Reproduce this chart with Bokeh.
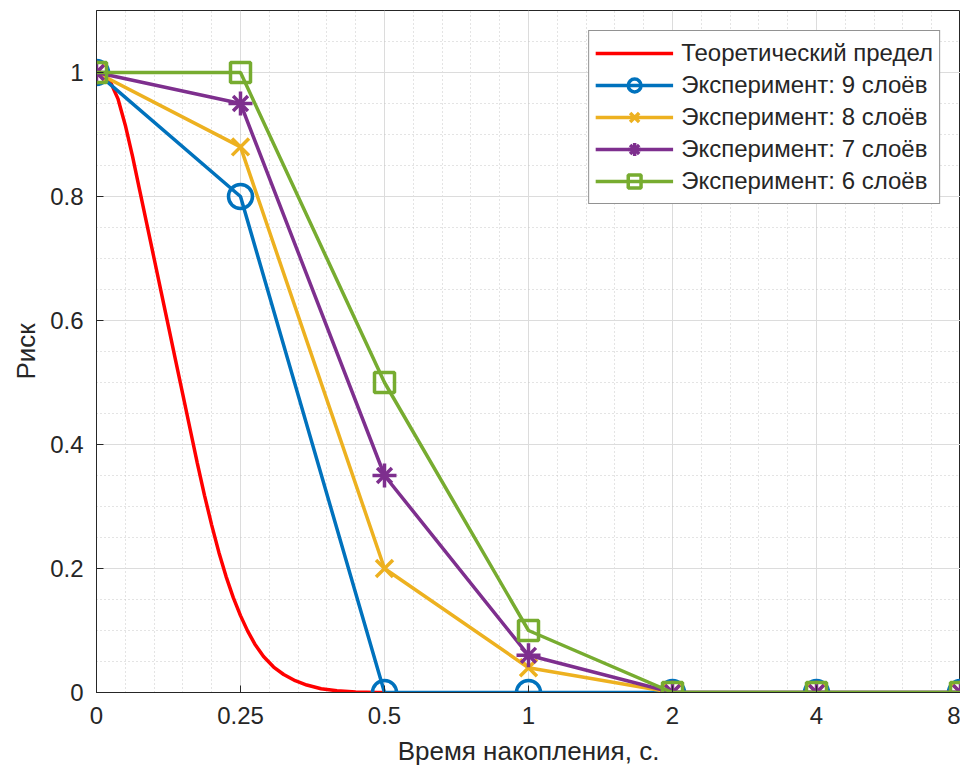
from bokeh.plotting import figure
from bokeh.models import FixedTicker, Range1d, Legend
from bokeh.embed import file_html
from bokeh.resources import INLINE

# ---- data ----
tick_labels = ["0", "0.25", "0.5", "1", "2", "4", "8"]
positions = [0, 1, 2, 3, 4, 5, 6]

# theoretical curve (x in axis-position units)
theory_x = [0.00, 0.05, 0.10, 0.15, 0.20, 0.25, 0.30, 0.35, 0.40, 0.45, 0.50, 0.55,
            0.60, 0.65, 0.70, 0.75, 0.80, 0.85, 0.90, 0.95, 1.00, 1.05, 1.10, 1.16,
            1.23, 1.30, 1.38, 1.46, 1.56, 1.67, 1.80, 1.95, 2.00]
theory_y = [1.000, 0.996, 0.983, 0.957, 0.915, 0.865, 0.810, 0.755, 0.700, 0.645, 0.590, 0.535,
            0.480, 0.425, 0.370, 0.318, 0.270, 0.226, 0.187, 0.153, 0.124, 0.099, 0.078, 0.058,
            0.041, 0.029, 0.019, 0.012, 0.006, 0.003, 0.001, 0.000, 0.000]

layers9 = [1.0, 0.80, 0.0, 0.0, 0.0, 0.0, 0.0]
layers8 = [1.0, 0.88, 0.20, 0.04, 0.0, 0.0, 0.0]
layers7 = [1.0, 0.95, 0.35, 0.06, 0.0, 0.0, 0.0]
layers6 = [1.0, 1.00, 0.50, 0.10, 0.0, 0.0, 0.0]

RED = "#FF0000"
BLUE = "#0072BD"
YELLOW = "#EDB120"
PURPLE = "#7E2F8E"
GREEN = "#77AC30"
TXT = "#262626"
FONT = "Liberation Sans"

p = figure(width=960, height=768, output_backend="svg", toolbar_location=None,
           x_range=Range1d(0, 6), y_range=Range1d(0, 1.1),
           min_border_left=96, min_border_right=0, min_border_top=10, min_border_bottom=76)

p.outline_line_color = TXT
p.outline_line_width = 1

# ticks
p.xaxis.ticker = FixedTicker(ticks=positions,
                             minor_ticks=[i * 0.2 for i in range(0, 31)])
p.xaxis.major_label_overrides = {pos: lab for pos, lab in zip(positions, tick_labels)}
p.yaxis.ticker = FixedTicker(ticks=[0, 0.2, 0.4, 0.6, 0.8, 1.0],
                             minor_ticks=[i * 0.05 for i in range(0, 23)])
p.yaxis.major_label_overrides = {0: "0", 0.2: "0.2", 0.4: "0.4", 0.6: "0.6", 0.8: "0.8", 1.0: "1"}

for ax in (p.xaxis[0], p.yaxis[0]):
    ax.axis_line_color = TXT
    ax.major_tick_line_color = TXT
    ax.major_tick_in = 7
    ax.major_tick_out = 0
    ax.minor_tick_in = 0
    ax.minor_tick_out = 0
    ax.major_label_text_font = FONT
    ax.major_label_text_font_size = "24px"
    ax.major_label_text_color = TXT
    ax.axis_label_text_font = FONT
    ax.axis_label_text_font_size = "26px"
    ax.axis_label_text_color = TXT
    ax.axis_label_text_font_style = "normal"

p.xaxis.axis_label = "Время накопления, с."
p.yaxis.axis_label = "Риск"
p.xaxis.major_label_standoff = 14
p.yaxis.major_label_standoff = 13
p.xaxis.axis_label_standoff = 9
p.yaxis.axis_label_standoff = 6

# grid
for g in (p.xgrid[0], p.ygrid[0]):
    g.grid_line_color = "#DCDCDC"
    g.grid_line_width = 1
    g.minor_grid_line_color = "#C8C8C8"
    g.minor_grid_line_dash = "1 3"
    g.minor_grid_line_width = 1

LW = 3.5
items = []

r = p.line(theory_x, theory_y, color=RED, line_width=LW)
items.append(("Теоретический предел", [r]))

l9 = p.line(positions, layers9, color=BLUE, line_width=LW)
m9 = p.scatter(positions, layers9, marker="circle", size=24, line_color=BLUE,
               fill_color=None, line_width=3.5)
items.append(("Эксперимент: 9 слоёв", [l9, m9]))

l8 = p.line(positions, layers8, color=YELLOW, line_width=LW)
m8 = p.scatter(positions, layers8, marker="x", size=24, line_color=YELLOW,
               line_width=3.5)
items.append(("Эксперимент: 8 слоёв", [l8, m8]))

l7 = p.line(positions, layers7, color=PURPLE, line_width=LW)
m7a = p.scatter(positions, layers7, marker="cross", size=24, line_color=PURPLE,
                line_width=3.5)
m7b = p.scatter(positions, layers7, marker="x", size=21, line_color=PURPLE,
                line_width=3.5)
items.append(("Эксперимент: 7 слоёв", [l7, m7a, m7b]))

l6 = p.line(positions, layers6, color=GREEN, line_width=LW)
m6 = p.scatter(positions, layers6, marker="square", size=20, line_color=GREEN,
               fill_color=None, line_width=3.5)
items.append(("Эксперимент: 6 слоёв", [l6, m6]))

legend = Legend(items=items, location="top_right")
legend.margin = 20
legend.padding = 6
legend.spacing = 0
legend.glyph_width = 78
legend.glyph_height = 32
legend.label_height = 32
legend.label_standoff = 8
legend.label_text_font = FONT
legend.label_text_font_size = "24px"
legend.label_text_color = TXT
legend.border_line_color = TXT
legend.border_line_width = 1
legend.background_fill_color = "white"
legend.background_fill_alpha = 1.0
p.add_layout(legend, "center")

open("out.html", "w").write(file_html(p, INLINE))
